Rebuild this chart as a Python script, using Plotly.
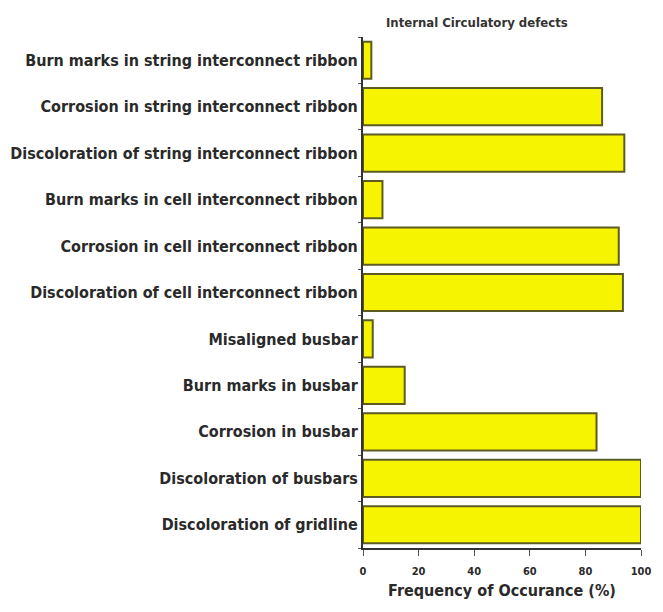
import plotly.graph_objects as go

categories = [
    "Burn marks in string interconnect ribbon",
    "Corrosion in string interconnect ribbon",
    "Discoloration of string interconnect ribbon",
    "Burn marks in cell interconnect ribbon",
    "Corrosion in cell interconnect ribbon",
    "Discoloration of cell interconnect ribbon",
    "Misaligned busbar",
    "Burn marks in busbar",
    "Corrosion in busbar",
    "Discoloration of busbars",
    "Discoloration of gridline",
]
values = [3, 86, 94, 7, 92, 93.5, 3.5, 15, 84, 100, 100]
x_ticks = [0, 20, 40, 60, 80, 100]

FONT = "DejaVu Sans Condensed, Liberation Sans, Arial, sans-serif"

fig = go.Figure(go.Bar(
    x=values, y=categories, orientation="h",
    marker=dict(color="#f7f400", line=dict(color="#5e5b22", width=2)),
    width=0.8,
))

fig.update_layout(
    width=663, height=612,
    margin=dict(l=355, r=30, t=29, b=72),
    paper_bgcolor="white", plot_bgcolor="white",
    showlegend=False,
    font=dict(family=FONT, color="#2a2a2a"),
    annotations=[dict(
        text="<b>Internal Circulatory defects</b>", x=0.41, y=1.0,
        xref="paper", yref="paper", xanchor="center", yanchor="bottom",
        yshift=5, showarrow=False, font=dict(size=13, family=FONT, color="#333333"),
    )],
)
fig.update_xaxes(
    range=[0, 100], tickvals=x_ticks,
    ticktext=[f"<b>{t}</b>" for t in x_ticks],
    showline=True, linecolor="#333333", linewidth=2,
    ticks="outside", ticklen=6, tickcolor="#555555",
    ticklabelstandoff=6,
    showgrid=False, zeroline=False, automargin=False,
    tickfont=dict(size=11, family=FONT, color="#2a2a2a"),
    title=dict(text="<b>Frequency of Occurance (%)</b>", font=dict(size=16, family=FONT, color="#2a2a2a"), standoff=8),
)
fig.update_yaxes(
    autorange="reversed",
    tickvals=categories,
    ticktext=[f"<b>{c}</b>" for c in categories],
    showline=True, linecolor="#333333", linewidth=2,
    ticks="outside", tickson="boundaries", ticklen=3, tickcolor="#555555",
    showgrid=False, automargin=False,
    tickfont=dict(size=16, family=FONT, color="#2a2a2a"),
)

fig.write_html("out.html")
